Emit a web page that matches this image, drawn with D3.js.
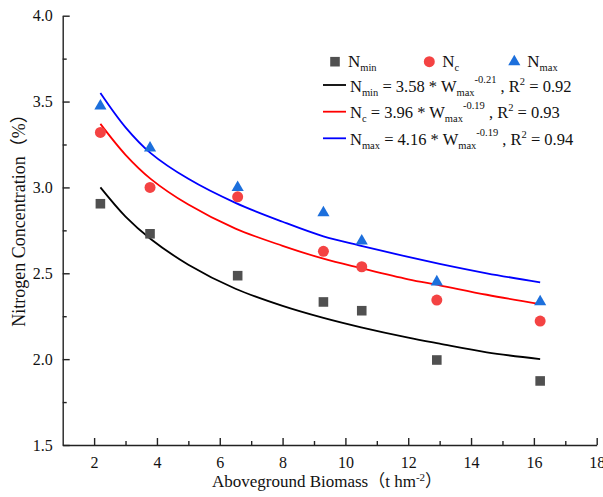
<!DOCTYPE html>
<html>
<head>
<meta charset="utf-8">
<script src="https://cdn.jsdelivr.net/npm/d3@7"></script>
<style>
  html, body { margin: 0; padding: 0; background: #fff; }
  svg text { font-family: "Liberation Serif", "Noto Sans CJK SC", serif; fill: #111; }
</style>
</head>
<body>
<svg id="chart" width="603" height="497"></svg>
<script>
// DATA -------------------------------------------------------
const biomass = [2.2, 3.78, 6.57, 9.3, 10.52, 12.91, 16.2];
const nMin = [2.905, 2.73, 2.486, 2.333, 2.282, 1.995, 1.873];
const nC   = [3.32, 3.0, 2.945, 2.628, 2.538, 2.344, 2.222];
const nMax = [3.474, 3.23, 3.0, 2.853, 2.688, 2.45, 2.334];

// fitted curves
const fitX    = [2.2, 3, 3.8, 5, 6.5, 8, 9.3, 10.5, 12, 13, 14.5, 16.2];
const fitNmin = [3.0, 2.83, 2.70, 2.55, 2.41, 2.31, 2.24, 2.185, 2.125, 2.09, 2.04, 2.0];
const fitNc   = [3.37, 3.19, 3.05, 2.9, 2.76, 2.66, 2.585, 2.53, 2.465, 2.43, 2.375, 2.32];
const fitNmax = [3.55, 3.35, 3.2, 3.05, 2.91, 2.8, 2.715, 2.66, 2.595, 2.555, 2.5, 2.447];

const xTicks = [2, 4, 6, 8, 10, 12, 14, 16, 18];
const xMinor = [3, 5, 7, 9, 11, 13, 15, 17];
const yTicks = [1.5, 2.0, 2.5, 3.0, 3.5, 4.0];
const yMinor = [1.75, 2.25, 2.75, 3.25, 3.75];

const colors = { min: "#505050", c: "#f44343", max: "#1c6fdc" };
const lineColors = { min: "#000000", c: "#ff0000", max: "#0000ff" };

// SETUP ------------------------------------------------------
const margin = { left: 62.7, top: 15.7, right: 6.3, bottom: 52 };
const width = 603, height = 497;
const svg = d3.select("#chart");

const xScale = d3.scaleLinear()
    .domain([1, 18])
    .range([margin.left, width - margin.right]);

const yScale = d3.scaleLinear()
    .domain([1.5, 4.0])
    .range([height - margin.bottom, margin.top]);

// AXES -------------------------------------------------------
svg.append("g")
    .attr("transform", `translate(0, ${height - margin.bottom})`)
    .call(d3.axisBottom(xScale)
        .tickValues(xTicks)
        .tickFormat(d3.format("d"))
        .tickSizeInner(-7)
        .tickSizeOuter(0)
        .tickPadding(12));

svg.append("g")
    .attr("transform", `translate(0, ${height - margin.bottom})`)
    .call(d3.axisBottom(xScale)
        .tickValues(xMinor)
        .tickFormat("")
        .tickSizeInner(-4)
        .tickSizeOuter(0))
    .call(g => g.select(".domain").remove());

svg.append("g")
    .attr("transform", `translate(${margin.left}, 0)`)
    .call(d3.axisLeft(yScale)
        .tickValues(yTicks)
        .tickFormat(d3.format(".1f"))
        .tickSizeInner(-7)
        .tickSizeOuter(0)
        .tickPadding(10));

svg.append("g")
    .attr("transform", `translate(${margin.left}, 0)`)
    .call(d3.axisLeft(yScale)
        .tickValues(yMinor)
        .tickFormat("")
        .tickSizeInner(-4)
        .tickSizeOuter(0))
    .call(g => g.select(".domain").remove());

svg.selectAll(".domain, .tick line")
    .attr("stroke", "#222")
    .attr("stroke-width", 1.4);

svg.selectAll(".tick text")
    .style("font-family", "'Liberation Serif', serif")
    .style("font-size", "16px")
    .attr("fill", "#111");

// AXIS LABELS
const xLabel = svg.append("text")
    .attr("x", 327)
    .attr("y", 487)
    .attr("text-anchor", "middle")
    .style("font-size", "17px");
xLabel.append("tspan").text("Aboveground Biomass");
xLabel.append("tspan").text("（t hm");
xLabel.append("tspan").attr("dy", -6).style("font-size", "11px").text("-2");
xLabel.append("tspan").attr("dy", 6).text("）");

svg.append("text")
    .attr("transform", `translate(25, ${216}) rotate(-90)`)
    .attr("text-anchor", "middle")
    .style("font-size", "18px")
    .text("Nitrogen Concentration（%）");

// CURVES -----------------------------------------------------
const line = d3.line()
    .x(d => xScale(d[0]))
    .y(d => yScale(d[1]))
    .curve(d3.curveCatmullRom);

const curves = [
    { key: "min", vals: fitNmin },
    { key: "c", vals: fitNc },
    { key: "max", vals: fitNmax }
];

svg.selectAll("path.fit")
    .data(curves)
    .join("path")
    .attr("class", "fit")
    .attr("fill", "none")
    .attr("stroke", d => lineColors[d.key])
    .attr("stroke-width", 1.8)
    .attr("d", d => line(fitX.map((x, i) => [x, d.vals[i]])));

// POINTS -----------------------------------------------------
const series = [
    { key: "min", vals: nMin, shape: d3.symbolSquare, size: 92 },
    { key: "c", vals: nC, shape: d3.symbolCircle, size: 95 },
    { key: "max", vals: nMax, shape: d3.symbolTriangle, size: 64 }
];

series.forEach(s => {
    svg.selectAll(`path.pt-${s.key}`)
        .data(biomass.map((x, i) => [x, s.vals[i]]))
        .join("path")
        .attr("class", `pt-${s.key}`)
        .attr("transform", d => `translate(${xScale(d[0])}, ${yScale(d[1])})`)
        .attr("d", d3.symbol().type(s.shape).size(s.size))
        .attr("fill", colors[s.key]);
});

// LEGEND -----------------------------------------------------
const legend = svg.append("g");
const markerRow = [
    { key: "min", x: 335, shape: d3.symbolSquare, size: 92, label: "min" },
    { key: "c", x: 429.3, shape: d3.symbolCircle, size: 95, label: "c" },
    { key: "max", x: 514.3, shape: d3.symbolTriangle, size: 64, label: "max" }
];
const row1Y = 61.7;

markerRow.forEach(m => {
    legend.append("path")
        .attr("transform", `translate(${m.x}, ${row1Y})`)
        .attr("d", d3.symbol().type(m.shape).size(m.size))
        .attr("fill", colors[m.key]);
    const t = legend.append("text")
        .attr("x", m.x + 13)
        .attr("y", row1Y + 5)
        .style("font-size", "17px");
    t.append("tspan").text("N");
    t.append("tspan").attr("dy", 4).style("font-size", "10.5px").text(m.label);
});

const eqRows = [
    { key: "min", sub: "min", coef: "3.58", exp: "-0.21", r2: "0.92" },
    { key: "c", sub: "c", coef: "3.96", exp: "-0.19", r2: "0.93" },
    { key: "max", sub: "max", coef: "4.16", exp: "-0.19", r2: "0.94" }
];
const rowYs = [85, 111.7, 138.3];

eqRows.forEach((r, i) => {
    const y = rowYs[i];
    legend.append("line")
        .attr("x1", 323).attr("x2", 346)
        .attr("y1", y).attr("y2", y)
        .attr("stroke", lineColors[r.key])
        .attr("stroke-width", 1.8);
    const t = legend.append("text")
        .attr("x", 350)
        .attr("y", y + 6.7)
        .style("font-size", "16.5px");
    t.append("tspan").text("N");
    t.append("tspan").attr("dy", 4).style("font-size", "10.5px").text(r.sub);
    t.append("tspan").attr("dy", -4).text(` = ${r.coef} * W`);
    t.append("tspan").attr("dy", 4).style("font-size", "10.5px").text("max");
    t.append("tspan").attr("dy", -13).style("font-size", "10.5px").text(r.exp);
    t.append("tspan").attr("dy", 9).text(" , R");
    t.append("tspan").attr("dy", -7).style("font-size", "10.5px").text("2");
    t.append("tspan").attr("dy", 7).text(` = ${r.r2}`);
});
</script>
</body>
</html>
